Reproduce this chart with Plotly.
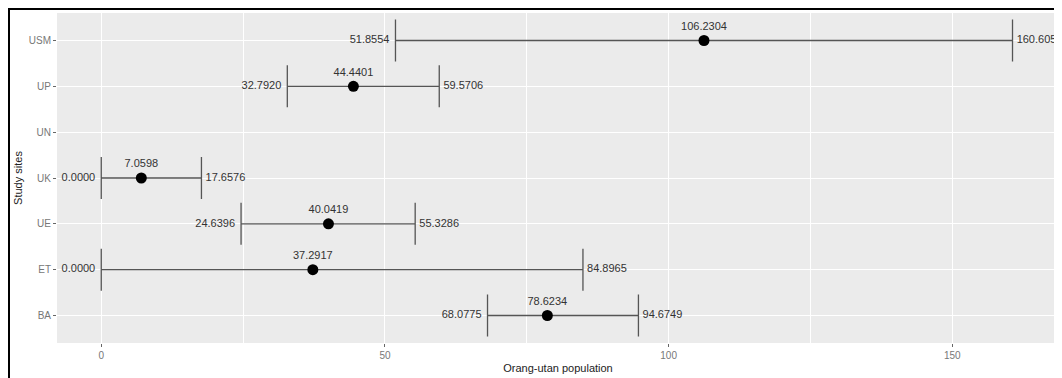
import plotly.graph_objects as go

sites = ["BA", "ET", "UE", "UK", "UN", "UP", "USM"]
mean_pop = [78.6234, 37.2917, 40.0419, 7.0598, None, 44.4401, 106.2304]
lower_pop = [68.0775, 0.0000, 24.6396, 0.0000, None, 32.7920, 51.8554]
upper_pop = [94.6749, 84.8965, 55.3286, 17.6576, None, 59.5706, 160.6054]
x_ticks = [0, 50, 100, 150]

def fmt(v):
    return "" if v is None else f"{v:.4f}"

plus = [None if m is None else u - m for m, u in zip(mean_pop, upper_pop)]
minus = [None if m is None else m - l for m, l in zip(mean_pop, lower_pop)]

font_fam = "Liberation Sans, Arial, sans-serif"
bar_color = "#555555"
label_font = dict(family=font_fam, size=11, color="#333333")

W, H = 1054, 370
ML, MR, MT, MB = 49, 3, 5, 35
PW, PH = W - ML - MR, H - MT - MB

fig = go.Figure()

# error bars (whiskers with caps) + mean points with labels
fig.add_trace(go.Scatter(
    x=mean_pop, y=sites, mode="markers+text",
    marker=dict(size=11, color="black"),
    error_x=dict(type="data", symmetric=False, array=plus, arrayminus=minus,
                 color=bar_color, thickness=1.3, width=21),
    text=[fmt(v) for v in mean_pop], textposition="top center",
    textfont=label_font,
    showlegend=False, hoverinfo="skip"))

# lower labels
fig.add_trace(go.Scatter(
    x=lower_pop, y=sites, mode="markers+text",
    marker=dict(size=8, opacity=0),
    text=[fmt(v) for v in lower_pop], textposition="middle left",
    textfont=label_font,
    showlegend=False, hoverinfo="skip"))

# upper labels
fig.add_trace(go.Scatter(
    x=upper_pop, y=sites, mode="markers+text",
    marker=dict(size=5, opacity=0),
    text=[fmt(v) for v in upper_pop], textposition="middle right",
    textfont=label_font,
    showlegend=False, hoverinfo="skip"))

fig.update_layout(
    width=W, height=H,
    margin=dict(l=ML, r=MR, t=MT, b=MB),
    paper_bgcolor="white", plot_bgcolor="#EBEBEB",
    font=dict(family=font_fam, color="#333333"),
    xaxis=dict(
        range=[-7.8, 168.8], tickvals=x_ticks, ticktext=[str(t) for t in x_ticks],
        showgrid=True, gridcolor="white", gridwidth=1.2, zeroline=False,
        ticks="outside", ticklen=3, tickcolor="#666666",
        tickfont=dict(size=10, color="#777777"),
        minor=dict(dtick=25, tick0=0, showgrid=True, gridcolor="white", gridwidth=0.6),
        title=dict(text="Orang-utan population", font=dict(size=11, color="#222222"), standoff=4),
        showline=False),
    yaxis=dict(
        type="category", categoryorder="array", categoryarray=sites,
        range=[-0.6, 6.6], showgrid=True, gridcolor="white", gridwidth=1.2,
        ticks="outside", ticklen=3, tickcolor="#666666",
        tickfont=dict(size=10, color="#777777"),
        title=dict(text="Study sites", font=dict(size=11, color="#222222"), standoff=3),
        zeroline=False, showline=False),
    shapes=[
        dict(type="line", xref="paper", yref="paper",
             x0=-ML / PW, x1=1 + MR / PW, y0=1 + (MT - 1) / PH, y1=1 + (MT - 1) / PH,
             line=dict(color="black", width=2)),
        dict(type="line", xref="paper", yref="paper",
             x0=-(ML - 1) / PW, x1=-(ML - 1) / PW, y0=1 + MT / PH, y1=-MB / PH,
             line=dict(color="black", width=2)),
    ],
)

fig.write_html("out.html")
